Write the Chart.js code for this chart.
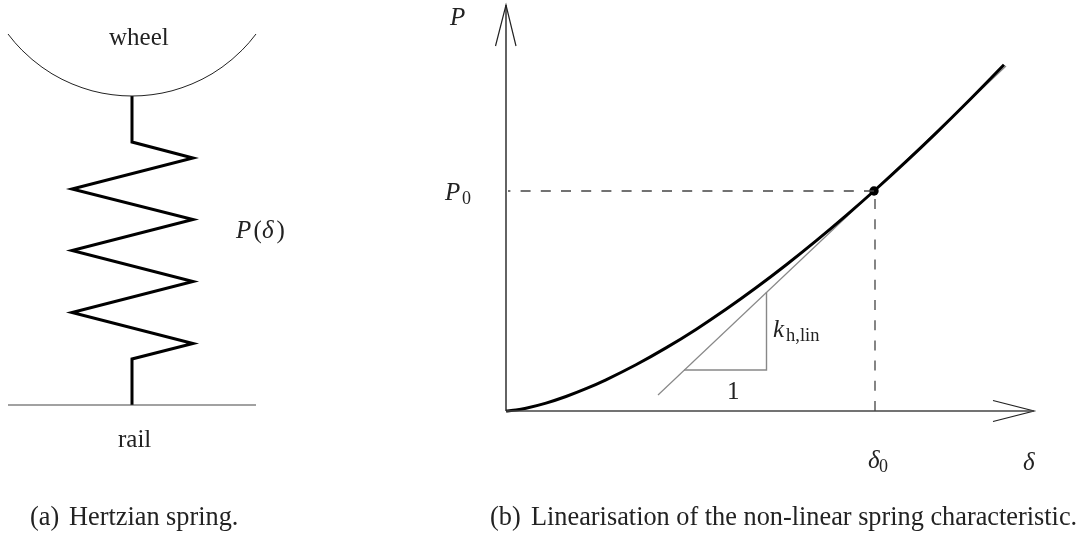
<!DOCTYPE html>
<html>
<head>
<meta charset="utf-8">
<title>Hertzian spring</title>
<script src="https://cdn.jsdelivr.net/npm/chart.js@4"></script>
<style>
  html, body { margin: 0; padding: 0; background: #fff; }
  canvas { display: block; }
</style>
</head>
<body>
<canvas id="myChart" width="1091" height="536"></canvas>
<script>
// Left figure: wheel, spring, rail
const wheelX = [8, 15, 22, 32, 42, 52, 62, 72, 82, 92, 102, 112, 122, 132, 142, 152, 162, 172, 182, 192, 202, 212, 222, 232, 242, 249, 256];
const wheelY = [34, 42.7, 50.2, 59.4, 67.2, 73.8, 79.3, 83.9, 87.7, 90.8, 93.1, 94.7, 95.7, 96, 95.7, 94.7, 93.1, 90.8, 87.7, 83.9, 79.3, 73.8, 67.2, 59.4, 50.2, 42.7, 34];
const springX = [132, 132, 193, 72, 193, 72, 193, 72, 193, 132, 132];
const springY = [96, 142, 158, 189, 219.5, 250.5, 281.5, 312.5, 343.5, 359, 405];
const railX = [8, 256];
const railY = [405, 405];

// Right figure: axes
const axisYX = [506, 506];
const axisYY = [411, 5];
const arrowYX = [495.5, 506, 516];
const arrowYY = [46, 5, 46];
const axisXX = [506, 1034];
const axisXY = [411, 411];
const arrowXX = [993, 1034, 993];
const arrowXY = [400.5, 411, 421.5];

// Spring characteristic
const curveX = [506, 516, 526, 546, 566, 586, 606, 636, 666, 696, 726, 756, 786, 816, 846, 874, 906, 936, 966, 1004];
const curveY = [411, 410, 408.2, 403.1, 396.5, 388.7, 379.8, 364.8, 347.9, 329.4, 309.3, 287.8, 265, 240.9, 215.6, 191, 161.7, 133.1, 103.5, 64.7];

// Tangent and slope triangle
const tangentX = [658, 1006];
const tangentY = [395, 66];
const triangleX = [684, 766.5, 766.5];
const triangleY = [370, 370, 292];

// Working point and its guides
const pointX = [874];
const pointY = [191];
const guideHX = [874, 508];
const guideHY = [191, 191];
const guideVX = [875, 875];
const guideVY = [411, 193];

// Text pieces
const serif = '"Liberation Serif", "Times New Roman", serif';
const textItems = ["wheel", "rail", "(a)", "Hertzian spring.", "(b)", "Linearisation of the non-linear spring characteristic.", "P", "(", "δ", ")", "P", "P", "0", "k", "h,lin", "1", "δ", "0", "δ"];
const textX = [109, 118, 30, 69, 490, 531, 236, 253.5, 262, 276.5, 450, 445, 462, 773, 786, 727, 868, 879, 1023];
const textY = [45, 447, 525, 525, 525, 525, 238, 238, 238, 238, 25, 200, 204, 337, 341, 399, 468, 472, 470];
const textFonts = ["25px", "25px", "26.3px", "26.3px", "26.3px", "26.3px", "italic 25px", "25px", "italic 25px", "25px", "italic 25px", "italic 25px", "18px", "italic 25px", "18.5px", "25px", "italic 25px", "18px", "italic 25px"];

function toPoints(xs, ys) {
  return xs.map((x, i) => ({ x: x, y: ys[i] }));
}

function lineSet(xs, ys, color, width, extra) {
  return Object.assign({
    data: toPoints(xs, ys),
    showLine: true,
    borderColor: color,
    backgroundColor: color,
    borderWidth: width,
    pointRadius: 0,
    tension: 0,
    clip: false,
  }, extra || {});
}

// Writes the labels through the same scales as the lines
const textPlugin = {
  id: "textPlugin",
  afterDatasetsDraw(chart) {
    const c = chart.ctx;
    c.save();
    c.fillStyle = "#222";
    c.textBaseline = "alphabetic";
    textItems.forEach((t, i) => {
      c.font = textFonts[i] + " " + serif;
      c.fillText(t, chart.scales.x.getPixelForValue(textX[i]), chart.scales.y.getPixelForValue(textY[i]));
    });
    c.restore();
  },
};

const ctx = document.getElementById("myChart");

new Chart(ctx, {
  type: "scatter",
  data: {
    datasets: [
      lineSet(wheelX, wheelY, "#222", 1),
      lineSet(railX, railY, "#444", 1.2),
      lineSet(springX, springY, "#000", 3),
      lineSet(axisYX, axisYY, "#222", 1.4),
      lineSet(arrowYX, arrowYY, "#222", 1.2),
      lineSet(axisXX, axisXY, "#444", 1.6),
      lineSet(arrowXX, arrowXY, "#222", 1.2),
      lineSet(guideHX, guideHY, "#444", 1.3, { borderDash: [10, 10.2] }),
      lineSet(guideVX, guideVY, "#444", 1.3, { borderDash: [10, 10.2] }),
      lineSet(curveX, curveY, "#000", 3, { cubicInterpolationMode: "monotone" }),
      lineSet(tangentX, tangentY, "#888", 1.2),
      lineSet(triangleX, triangleY, "#888", 1.4),
      { data: toPoints(pointX, pointY), pointRadius: 4.7, backgroundColor: "#000", borderColor: "#000", borderWidth: 0, clip: false },
    ],
  },
  options: {
    responsive: false,
    animation: false,
    layout: { padding: 0, autoPadding: false },
    plugins: { legend: { display: false }, tooltip: { enabled: false } },
    scales: {
      x: { type: "linear", min: 0, max: 1091, display: false },
      y: { type: "linear", min: 0, max: 536, reverse: true, display: false },
    },
  },
  plugins: [textPlugin],
});
</script>
</body>
</html>
